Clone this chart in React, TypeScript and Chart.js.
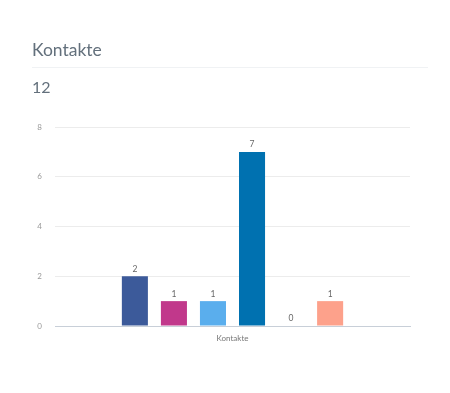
import React, { useEffect, useRef } from "react";
import { Chart, registerables } from "chart.js";

Chart.register(...registerables);

const titleText = "Kontakte";
const totalText = "12";
const categories = ["Kontakte"];
const seriesNames = ["Serie 1", "Serie 2", "Serie 3", "Serie 4", "Serie 5", "Serie 6"];
const seriesValues = [2, 1, 1, 7, 0, 1];
const seriesColors = ["#3c5a9a", "#c1388b", "#5aaeed", "#0071b0", "#f2545b", "#fda18b"];
const yTickValues = [0, 2, 4, 6, 8];

const valueLabelPlugin = {
  id: "valueLabels",
  afterDatasetsDraw(chart: any) {
    const ctx = chart.ctx;
    ctx.save();
    ctx.font = "8.5px Lato, 'Open Sans', sans-serif";
    ctx.fillStyle = "#666666";
    ctx.textAlign = "center";
    ctx.textBaseline = "bottom";
    chart.data.datasets.forEach((ds: any, i: number) => {
      const meta = chart.getDatasetMeta(i);
      meta.data.forEach((bar: any, j: number) => {
        const v = ds.data[j];
        ctx.fillText(String(v), bar.x, bar.y - 3);
      });
    });
    ctx.restore();
  },
};

export default function App() {
  const canvasRef = useRef<HTMLCanvasElement | null>(null);

  useEffect(() => {
    if (!canvasRef.current) return;
    const chart = new Chart(canvasRef.current, {
      type: "bar",
      data: {
        labels: categories,
        datasets: seriesNames.map((name, i) => ({
          label: name,
          data: [seriesValues[i]],
          backgroundColor: seriesColors[i],
          borderWidth: 0,
          categoryPercentage: 0.66,
          barPercentage: 0.667,
        })),
      },
      options: {
        responsive: false,
        animation: false,
        layout: { padding: { left: 35, right: 40, top: 127, bottom: 47 } },
        plugins: {
          legend: { display: false },
          tooltip: { enabled: false },
          title: { display: false },
        },
        scales: {
          x: {
            grid: { display: false, drawTicks: false },
            border: { display: true, color: "#c8cfd8", width: 1 },
            ticks: {
              color: "#777777",
              font: { size: 8, family: "Lato, 'Open Sans', sans-serif" },
              padding: 8,
            },
            afterFit: (s: any) => {
              s.height = 20;
            },
          },
          y: {
            min: 0,
            max: 8,
            afterBuildTicks: (s: any) => {
              s.ticks = yTickValues.map((v) => ({ value: v }));
            },
            grid: { color: "#ececec", drawTicks: false },
            border: { display: false },
            ticks: {
              color: "#999999",
              font: { size: 8, family: "Lato, 'Open Sans', sans-serif" },
              padding: 13,
            },
            afterFit: (s: any) => {
              s.width = 20;
            },
          },
        },
      },
      plugins: [valueLabelPlugin],
    });
    return () => chart.destroy();
  }, []);

  return (
    <div style={{ position: "fixed", left: 0, top: 0, width: 450, height: 393, background: "#fff" }}>
      <canvas
        ref={canvasRef}
        width={450}
        height={393}
        style={{ position: "absolute", left: 0, top: 0, width: 450, height: 393 }}
      />
      <div
        style={{
          position: "absolute",
          left: 32,
          top: 40,
          fontFamily: "Lato, 'Open Sans', sans-serif",
          fontWeight: 400,
          fontSize: 17.5,
          lineHeight: "20px",
          color: "#63707c",
          whiteSpace: "nowrap",
        }}
      >
        {titleText}
      </div>
      <div
        style={{
          position: "absolute",
          left: 32,
          top: 67,
          width: 396,
          height: 1,
          background: "#f0f2f4",
        }}
      />
      <div
        style={{
          position: "absolute",
          left: 32,
          top: 77,
          fontFamily: "Lato, 'Open Sans', sans-serif",
          fontWeight: 400,
          fontSize: 16,
          lineHeight: "20px",
          color: "#63707c",
          whiteSpace: "nowrap",
        }}
      >
        {totalText}
      </div>
    </div>
  );
}
